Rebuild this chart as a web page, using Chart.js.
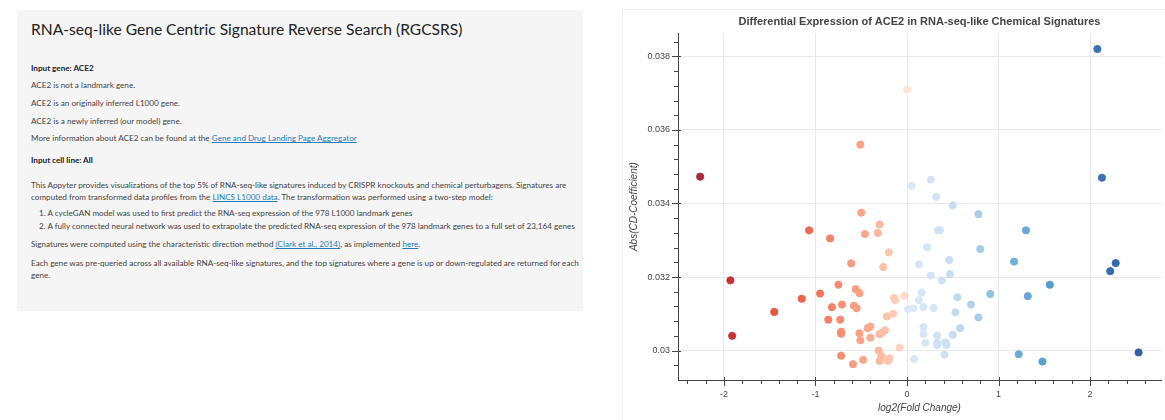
<!DOCTYPE html>
<html>
<head>
<meta charset="utf-8">
<script src="https://cdn.jsdelivr.net/npm/chart.js@4.4.0/dist/chart.umd.min.js"></script>
<style>
  html, body { margin: 0; padding: 0; width: 1165px; height: 420px; overflow: hidden; background: #fff; }
  #panel { position: absolute; left: 17px; top: 10px; width: 566px; height: 301px; background: #f5f5f5;
    font-family: Lato, "Open Sans", sans-serif; color: #444; }
  #panel div { position: absolute; left: 14px; white-space: nowrap; font-size: 8.15px; line-height: 10px; }
  #panel .h { font-size: 15.6px; line-height: 18px; color: #222; top: 10px; }
  #panel .b { font-weight: bold; color: #222; }
  #panel .li { left: 22px; }
  #panel a { color: #2a7ab8; text-decoration: underline; }
  #wrap { position: absolute; left: 622px; top: 9px; width: 600px; height: 420px;
    border-left: 1px solid #eeeeee; border-top: 1px solid #eeeeee; }
  #chart { position: absolute; left: 0; top: 0; }
</style>
</head>
<body>
<div id="panel">
  <div class="h">RNA-seq-like Gene Centric Signature Reverse Search (RGCSRS)</div>
  <div class="b" style="top:53px">Input gene: ACE2</div>
  <div style="top:70px">ACE2 is not a landmark gene.</div>
  <div style="top:88px">ACE2 is an originally inferred L1000 gene.</div>
  <div style="top:106px">ACE2 is a newly inferred (our model) gene.</div>
  <div style="top:123px">More information about ACE2 can be found at the <a>Gene and Drug Landing Page Aggregator</a></div>
  <div class="b" style="top:145px">Input cell line: All</div>
  <div style="top:170px">This Appyter provides visualizations of the top 5% of RNA-seq-like signatures induced by CRISPR knockouts and chemical perturbagens. Signatures are</div>
  <div style="top:182px">computed from transformed data profiles from the <a>LINCS L1000 data</a>. The transformation was performed using a two-step model:</div>
  <div class="li" style="top:198px">1. A cycleGAN model was used to first predict the RNA-seq expression of the 978 L1000 landmark genes</div>
  <div class="li" style="top:211px">2. A fully connected neural network was used to extrapolate the predicted RNA-seq expression of the 978 landmark genes to a full set of 23,164 genes</div>
  <div style="top:229px">Signatures were computed using the characteristic direction method <a>(Clark et al., 2014)</a>, as implemented <a>here</a>.</div>
  <div style="top:248px">Each gene was pre-queried across all available RNA-seq-like signatures, and the top signatures where a gene is up or down-regulated are returned for each</div>
  <div style="top:260px">gene.</div>
</div>
<div id="wrap"><canvas id="chart" width="543" height="411"></canvas></div>
<script>
// log2(Fold Change) of each signature
const xValues = [
  -2.26, -1.93, -1.91, -1.45, -1.15, -1.07, -0.95, -0.84, -0.82, -0.86,
  -0.75, -0.73, -0.71, -0.72, -0.72, -0.72, -0.61, -0.59, -0.58, -0.56,
  -0.55, -0.52, -0.52, -0.51, -0.50, -0.48, -0.46, -0.43, -0.40, -0.40,
  -0.32, -0.30, -0.30, -0.27, -0.24, -0.31, -0.28, -0.30, -0.19, -0.21,
  -0.22, -0.15, -0.26, -0.20, -0.14, -0.13, -0.03, -0.08, -0.51, 0.00,
  2.08, 2.13, 0.05, 0.26, 0.32, 0.50, 0.78, 1.30, 0.34, 0.36,
  0.80, 0.22, 0.46, 0.13, 1.17, 2.28, 2.22, 0.26, 0.47, 0.38,
  1.56, 0.16, 0.13, 0.55, 0.91, 1.32, 0.70, 0.01, 0.07, 0.18,
  0.29, 0.53, 0.78, 0.18, 0.58, 0.18, 0.33, 0.50, 0.20, 0.33,
  0.33, 0.42, 0.43, 0.41, 0.08, 1.22, 1.48, 2.53
];
// Abs(CD-Coefficient) of each signature
const yValues = [
  0.03473, 0.03191, 0.03040, 0.03105, 0.03141, 0.03327, 0.03155, 0.03305, 0.03118, 0.03084,
  0.03179, 0.03084, 0.03125, 0.03051, 0.03046, 0.02986, 0.03237, 0.02963, 0.03122, 0.03167,
  0.03115, 0.03156, 0.03047, 0.03028, 0.03375, 0.02975, 0.03317, 0.03061, 0.03065, 0.03035,
  0.03320, 0.03343, 0.03045, 0.03049, 0.03055, 0.03000, 0.02985, 0.02972, 0.02979, 0.02972,
  0.03093, 0.03100, 0.03227, 0.03267, 0.03143, 0.03137, 0.03149, 0.03008, 0.03560, 0.03710,
  0.03820, 0.03470, 0.03448, 0.03465, 0.03418, 0.03395, 0.03371, 0.03327, 0.03327, 0.03327,
  0.03276, 0.03281, 0.03246, 0.03234, 0.03242, 0.03238, 0.03216, 0.03204, 0.03208, 0.03191,
  0.03179, 0.03158, 0.03137, 0.03145, 0.03154, 0.03148, 0.03125, 0.03113, 0.03115, 0.03118,
  0.03116, 0.03104, 0.03090, 0.03064, 0.03061, 0.03045, 0.03041, 0.03043, 0.03021, 0.03021,
  0.03015, 0.03022, 0.03015, 0.02989, 0.02977, 0.02990, 0.02970, 0.02995
];
const xTicks = [-2, -1, 0, 1, 2];
const yTicks = [0.030, 0.032, 0.034, 0.036, 0.038];

// colour ramp over log2FC (red = down, blue = up)
const colorStops = [
  [-2.3, '#a52c3a'], [-1.9, '#cc3438'], [-1.45, '#e85444'], [-1.1, '#f06650'],
  [-0.85, '#f48064'], [-0.6, '#f89b7e'], [-0.4, '#faab90'], [-0.25, '#fbc0a6'],
  [-0.05, '#fcd6c4'], [0.0, '#fde4d8'], [0.005, '#dde9f5'], [0.4, '#cfe2f2'],
  [0.6, '#bcd8ed'], [0.8, '#a5cce6'], [0.95, '#8bbfe0'], [1.2, '#6caed8'],
  [1.5, '#5ca0d2'], [2.0, '#3f75b4'], [2.6, '#2e62a2']
];

function hexToRgb(h) {
  return [parseInt(h.slice(1, 3), 16), parseInt(h.slice(3, 5), 16), parseInt(h.slice(5, 7), 16)];
}

function colorFor(v) {
  if (v <= colorStops[0][0]) return colorStops[0][1];
  for (let i = 1; i < colorStops.length; i++) {
    if (v <= colorStops[i][0]) {
      const [v0, c0] = colorStops[i - 1];
      const [v1, c1] = colorStops[i];
      const t = (v - v0) / (v1 - v0);
      const a = hexToRgb(c0), b = hexToRgb(c1);
      const rgb = a.map((c, k) => Math.round(c + (b[k] - c) * t));
      return 'rgb(' + rgb.join(',') + ')';
    }
  }
  return colorStops[colorStops.length - 1][1];
}

// bokeh-style major / minor tick marks
const tickMarks = {
  id: 'tickMarks',
  afterDraw(chart) {
    const { ctx, chartArea: a, scales: { x, y } } = chart;
    ctx.save();
    ctx.strokeStyle = '#444';
    ctx.lineWidth = 1;
    for (let i = -13; i <= 14; i++) {
      const px = Math.round(x.getPixelForValue(i * 0.2)) + 0.5;
      if (px < a.left || px > a.right) continue;
      const major = i % 5 === 0;
      ctx.beginPath();
      ctx.moveTo(px, a.bottom - (major ? 3 : 0));
      ctx.lineTo(px, a.bottom + (major ? 6 : 4));
      ctx.stroke();
    }
    for (let i = 72; i <= 97; i++) {
      const py = Math.round(y.getPixelForValue(i * 0.0004)) + 0.5;
      if (py < a.top || py > a.bottom) continue;
      const major = i % 5 === 0;
      ctx.beginPath();
      ctx.moveTo(a.left + (major ? 3 : 0), py);
      ctx.lineTo(a.left - (major ? 6 : 4), py);
      ctx.stroke();
    }
    ctx.restore();
  }
};

const font = 'Liberation Sans, Helvetica, Arial, sans-serif';
const colors = xValues.map(colorFor);

const ctx = document.getElementById('chart').getContext('2d');
const scatterChart = new Chart(ctx, {
  type: 'scatter',
  data: {
    datasets: [{
      data: xValues.map((x, i) => ({ x: x, y: yValues[i] })),
      pointBackgroundColor: colors,
      pointBorderColor: colors,
      pointBorderWidth: 1,
      pointRadius: 3.6
    }]
  },
  options: {
    responsive: false,
    animation: false,
    devicePixelRatio: 1,
    layout: { padding: 0 },
    plugins: {
      legend: { display: false },
      tooltip: { enabled: false },
      title: {
        display: true,
        fullSize: false,
        text: 'Differential Expression of ACE2 in RNA-seq-like Chemical Signatures',
        color: '#444',
        font: { family: font, size: 11, weight: 'bold' },
        padding: { top: 5, bottom: 5 }
      }
    },
    scales: {
      x: {
        type: 'linear',
        min: -2.502,
        max: 2.775,
        afterBuildTicks: s => { s.ticks = xTicks.map(v => ({ value: v })); },
        afterFit: s => { s.height = 41; },
        grid: { color: '#e9e9e9', drawTicks: false },
        border: { color: '#444' },
        ticks: { padding: 9, color: '#444', font: { family: font, size: 9 }, callback: v => String(v) },
        title: {
          display: true, text: 'log2(Fold Change)', color: '#444',
          font: { family: font, size: 10, style: 'italic' }, padding: { top: 0, bottom: 7 }
        }
      },
      y: {
        type: 'linear',
        min: 0.0292,
        max: 0.03863,
        afterBuildTicks: s => { s.ticks = yTicks.map(v => ({ value: v })); },
        afterFit: s => { s.width = 55; },
        grid: { color: '#e9e9e9', drawTicks: false },
        border: { color: '#444' },
        ticks: { padding: 8, color: '#444', font: { family: font, size: 9 }, callback: v => String(Number(v.toFixed(3))) },
        title: {
          display: true, text: 'Abs(CD-Coefficient)', color: '#444',
          font: { family: font, size: 10, style: 'italic' }, padding: { top: 5, bottom: 0 }
        }
      }
    }
  },
  plugins: [tickMarks]
});
</script>
</body>
</html>
